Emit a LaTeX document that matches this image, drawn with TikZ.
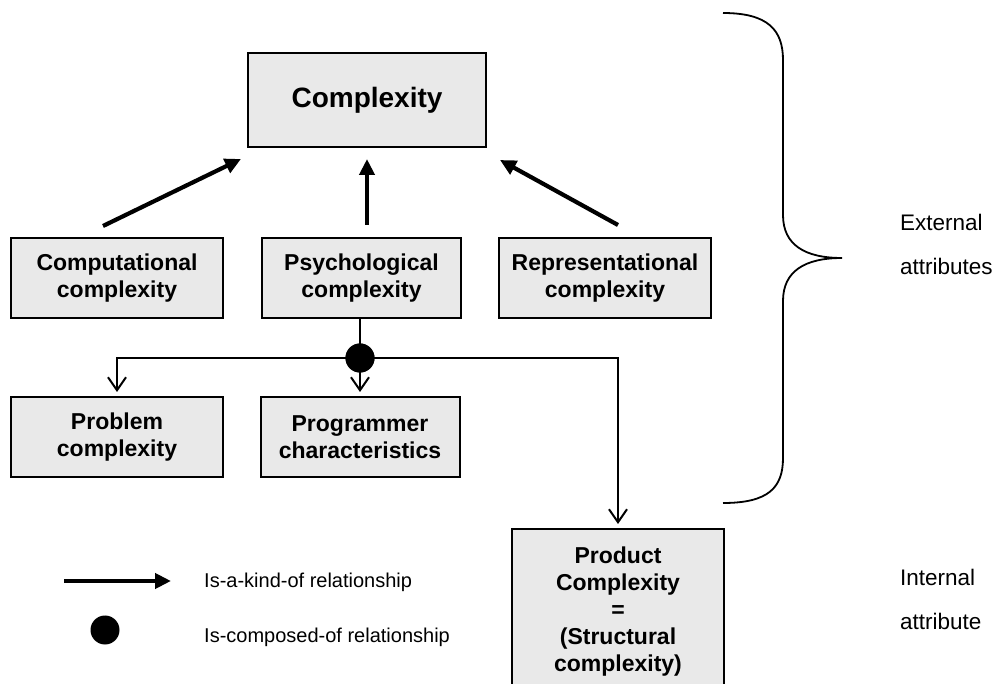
\documentclass[tikz,border=0pt]{standalone}
\usepackage{fontspec}
\setmainfont{Liberation Sans}
\usetikzlibrary{arrows.meta}
\definecolor{boxgray}{HTML}{E9E9E9}
\begin{document}
\begin{tikzpicture}[x=1pt,y=-1pt,
  attrbox/.style={draw=black,line width=2pt,fill=boxgray,inner sep=0pt,
    align=center,font=\bfseries\fontsize{23}{27}\selectfont},
  kindof/.style={line width=4.2pt,-{Triangle[length=16pt,width=15pt]}},
  partof/.style={line width=2pt,-{Straight Barb[length=13pt,width=18pt,line width=2pt]}},
  joint/.style={circle,fill=black,inner sep=0pt,minimum size=29pt},
  plain/.style={inner sep=0pt,align=left,font=\fontsize{20}{24}\selectfont},
  side/.style={inner sep=0pt,align=left,anchor=west,font=\fontsize{22.5}{44}\selectfont}]
  \useasboundingbox (0,0) rectangle (997,684);
  \clip (0,0) rectangle (997,684);

  % attribute boxes
  \node[attrbox,minimum width=238pt,minimum height=94pt,
        font=\bfseries\fontsize{28}{32}\selectfont] (cplx) at (367,100) {Complexity};
  \node[attrbox,minimum width=212pt,minimum height=80pt] (comp) at (117,278) {Computational\\complexity};
  \node[attrbox,minimum width=199pt,minimum height=80pt] (psy)  at (361.5,278) {Psychological\\complexity};
  \node[attrbox,minimum width=212pt,minimum height=80pt] (repr) at (605,278) {Representational\\complexity};
  \node[attrbox,minimum width=212pt,minimum height=80pt] (prob) at (117,437) {Problem\\complexity};
  \node[attrbox,minimum width=199pt,minimum height=80pt] (prog) at (360,437) {Programmer\\characteristics};
  \node[attrbox,minimum width=212pt,minimum height=166pt] (prod) at (618,612)
       {Product\\Complexity\\=\\(Structural\\complexity)};

  % is-a-kind-of arrows
  \coordinate (compS) at (103,226);
  \coordinate (compT) at (241,159);
  \coordinate (psyS)  at (367,225);
  \coordinate (psyT)  at (367,159);
  \coordinate (reprS) at (618,225);
  \coordinate (reprT) at (500,160);
  \draw[kindof] (compS) -- (compT);
  \draw[kindof] (psyS) -- (psyT);
  \draw[kindof] (reprS) -- (reprT);

  % is-composed-of branching
  \node[joint] (dot) at (360,358) {};
  \draw[line width=2pt] (dot.center |- psy.south) -- (dot.center);
  \draw[partof] (dot.center) -| ([yshift=4pt]prob.north);
  \draw[partof] (dot.center) -- ([yshift=4pt]prog.north);
  \draw[partof] (dot.center) -| ([yshift=4pt]prod.north);
  \node[joint] at (dot) {};

  % brace grouping the external attributes
  \coordinate (brTop) at (723,13);
  \coordinate (brTip) at (842,258);
  \coordinate (brBot) at (723,503);
  \draw[line width=1.8pt]
    (brTop) .. controls (768,13) and (783,30) .. (783,60)
    -- (783,215)
    .. controls (783,245) and (805,258) .. (brTip)
    .. controls (805,258) and (783,271) .. (783,301)
    -- (783,458)
    .. controls (783,488) and (768,503) .. (brBot);

  \node[side] (ext) at (900,244) {External\\attributes};
  \node[side] (int) at (900,599) {Internal\\attribute};

  % legend
  \coordinate (lgA) at (64,581);
  \coordinate (lgB) at (171,581);
  \draw[kindof] (lgA) -- (lgB);
  \node[joint] (lgDot) at (105,630) {};
  \node[plain,anchor=west] (lgKind) at (204,582) {Is-a-kind-of relationship};
  \node[plain,anchor=west] (lgComp) at (204,637) {Is-composed-of relationship};
\end{tikzpicture}
\end{document}
